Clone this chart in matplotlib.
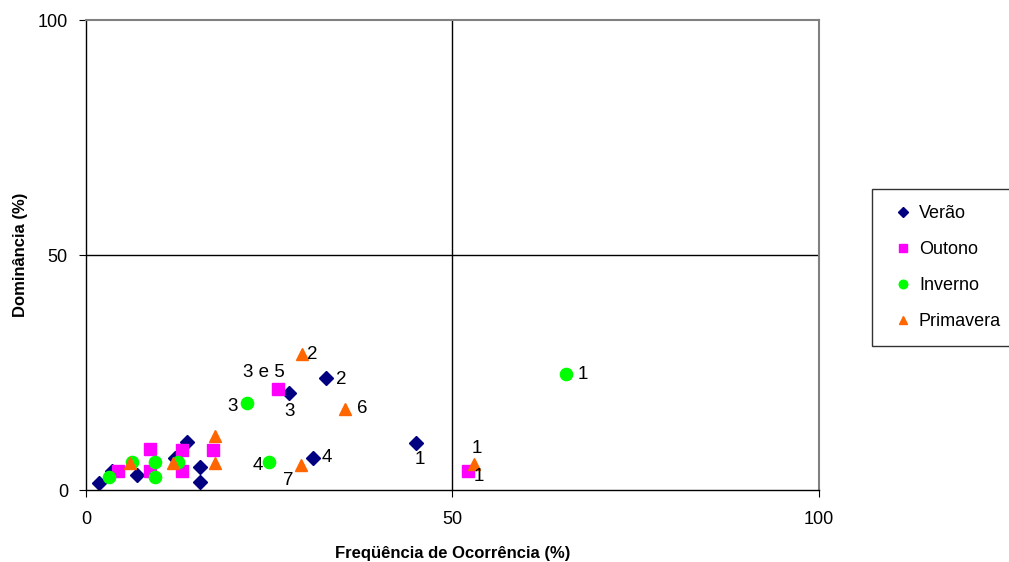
import numpy as np
from matplotlib import pyplot as plt

plt.rcParams['font.family'] = ['Liberation Sans', 'DejaVu Sans']

# data (x = frequencia %, y = dominancia %)
verao_x = [1.8, 3.5, 7.0, 12.1, 13.8, 15.6, 15.6, 27.7, 31.0, 32.7, 45.0]
verao_y = [1.5, 4.0, 3.2, 6.8, 10.2, 4.9, 1.7, 20.6, 6.8, 23.8, 10.0]

outono_x = [4.4, 8.7, 8.7, 13.1, 13.1, 17.3, 26.2, 52.1]
outono_y = [4.0, 8.7, 4.0, 8.5, 4.0, 8.5, 21.5, 4.0]

inverno_x = [3.1, 6.3, 9.4, 9.4, 12.6, 21.9, 25.0, 65.5]
inverno_y = [2.8, 6.0, 6.0, 2.8, 6.0, 18.5, 6.0, 24.7]

primavera_x = [6.0, 11.9, 17.6, 17.6, 29.3, 29.5, 35.3, 52.9]
primavera_y = [5.7, 5.7, 11.5, 5.7, 5.3, 29.0, 17.2, 5.5]

# point labels (text, x, y)
labels = [('1', 67.8, 24.5), ('2', 30.9, 28.8), ('3 e 5', 24.3, 25.1),
          ('2', 34.8, 23.6), ('3', 20.0, 17.8), ('3', 27.8, 16.7),
          ('6', 37.7, 17.4), ('1', 45.5, 6.4), ('1', 53.3, 8.9),
          ('1', 53.6, 2.8), ('4', 23.4, 5.2), ('4', 32.9, 7.0), ('7', 27.6, 2.0)]

fig = plt.figure(figsize=(10.09, 5.62), dpi=100)
ax = fig.add_axes([0.0852, 0.1281, 0.7265, 0.8363])

ms = 8.5
ax.plot(verao_x, verao_y, 'D', color='#000080', ms=ms - 1.2, ls='none', label='Verão')
ax.plot(outono_x, outono_y, 's', color='#FF00FF', ms=ms - 0.5, ls='none', label='Outono')
ax.plot(inverno_x, inverno_y, 'o', color='#00FF00', ms=ms + 0.3, ls='none', label='Inverno')
ax.plot(primavera_x, primavera_y, '^', color='#FF6600', ms=ms + 0.5, ls='none', label='Primavera')

for t, x, y in labels:
    ax.text(x, y, t, fontsize=13.5, ha='center', va='center')

ax.set_xlim(0, 100)
ax.set_ylim(0, 100)
ax.set_xticks([0, 50, 100])
ax.set_yticks([0, 50, 100])
ax.axhline(50, color='black', lw=1, zorder=0)
ax.axvline(50, color='black', lw=1, zorder=0)
ax.tick_params(direction='out', length=5, labelsize=13, pad=10)
ax.tick_params(axis='y', pad=8)

for s in ['top', 'right']:
    ax.spines[s].set_color('#808080')
    ax.spines[s].set_linewidth(1.5)
for s in ['left', 'bottom']:
    ax.spines[s].set_linewidth(1)

ax.set_xlabel('Freqüência de Ocorrência (%)', fontsize=12, fontweight='bold', labelpad=13)
ax.set_ylabel('Dominância (%)', fontsize=12, fontweight='bold', labelpad=7)

leg = fig.legend(loc='upper left', bbox_to_anchor=(872 / 1009, 1 - 189 / 562),
                 fontsize=13, frameon=True, fancybox=False, edgecolor='black',
                 handletextpad=0.1, handlelength=1.6, labelspacing=1.05,
                 borderpad=0.9, markerscale=0.7, borderaxespad=0)
leg.get_frame().set_linewidth(1)

fig.savefig('out.png', dpi=100)
